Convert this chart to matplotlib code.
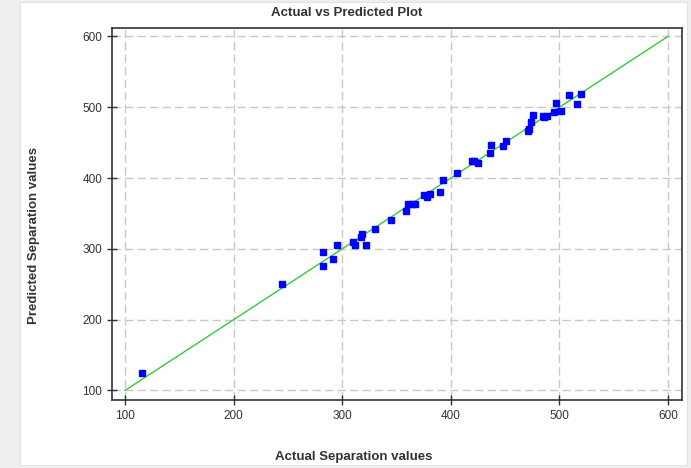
import numpy as np
import matplotlib
matplotlib.use("Agg")
import matplotlib.pyplot as plt
from matplotlib.patches import Rectangle

# valeurs
actual = [116, 245, 282, 282, 292, 295, 310, 312, 317, 318, 322, 330, 345,
          359, 361, 364, 367, 375, 378, 381, 390, 393, 406, 420, 421, 425,
          436, 437, 448, 451, 471, 472, 474, 476, 485, 486, 489, 495, 497,
          502, 509, 516, 520]
predicted = [125, 251, 296, 276, 286, 305, 310, 306, 317, 321, 305, 328, 341,
             354, 364, 364, 364, 376, 373, 378, 381, 397, 407, 424, 424, 422,
             436, 447, 445, 452, 467, 470, 479, 489, 487, 486, 487, 494, 506,
             495, 517, 504, 519]
ideal = [100, 600]
ticks = [100, 200, 300, 400, 500, 600]

plt.rcParams['font.family'] = ['Liberation Sans', 'DejaVu Sans']

fig = plt.figure(figsize=(6.91, 4.68), dpi=100)
fig.patch.set_facecolor('#eeeeee')
# panneau blanc derriere le graphique
bg = fig.add_axes([20/691, 1 - 465/468, 667/691, 463/468], zorder=-5)
bg.set_xticks([])
bg.set_yticks([])
for s in bg.spines.values():
    s.set_color('#e2e2e2')

ax = fig.add_axes([112/691, 1 - 400/468, 570/691, 372/468])
ax.plot(ideal, ideal, color='#33cc33', lw=1, zorder=2)
ax.plot(actual, predicted, 's', color='#0000ff', markersize=4.5, zorder=3)

ax.set_xlim(88, 613)
ax.set_ylim(86.5, 612)
ax.set_xticks(ticks)
ax.set_yticks(ticks)
ax.grid(True, color='#c8c8c8', ls=(0, (6, 3)), lw=1)
ax.set_axisbelow(True)
ax.tick_params(direction='inout', length=7, width=1, labelsize=8.5,
               colors='#333333')
for s in ax.spines.values():
    s.set_color('#333333')
    s.set_linewidth(1.2)

fig.text(347/691, 1 - 13/468, 'Actual vs Predicted Plot', ha='center',
         va='center', fontsize=9.5, fontweight='bold', color='#333333')
fig.text(354/691, 1 - 457/468, 'Actual Separation values', ha='center',
         va='center', fontsize=9.5, fontweight='bold', color='#333333')
fig.text(34/691, 1 - 236/468, 'Predicted Separation values', ha='center',
         va='center', rotation=90, fontsize=9.5, fontweight='bold',
         color='#333333')

fig.savefig('out.png', dpi=100, facecolor=fig.get_facecolor())
